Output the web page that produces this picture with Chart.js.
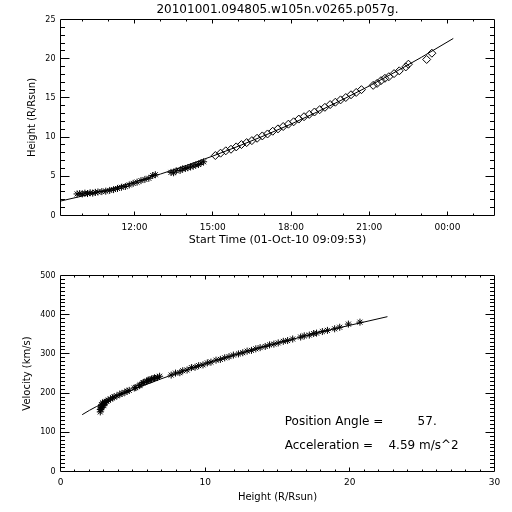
<!DOCTYPE html>
<html><head><meta charset="utf-8">
<script src="https://cdn.jsdelivr.net/npm/chart.js@4"></script>
<style>
html,body{margin:0;padding:0;background:#fff;width:512px;height:512px;overflow:hidden}
canvas{position:absolute;left:0}
#c1{top:0}
#c2{top:250px}
</style></head><body>
<canvas id="c1" width="512" height="250" style="width:512px;height:250px"></canvas>
<canvas id="c2" width="512" height="262" style="width:512px;height:262px"></canvas>
<script>
// ---------- texts ----------
const titleText = '20101001.094805.w105n.v0265.p057g.';
const timeTitle = 'Start Time (01-Oct-10 09:09:53)';
const heightTitle = 'Height (R/Rsun)';
const velocityTitle = 'Velocity (km/s)';
const annotLines = ['Position Angle =         57.', 'Acceleration =    4.59 m/s^2'];

// ---------- top panel: height vs time (hours of day) ----------
const starTimes = [9.80, 9.90, 10.00, 10.10, 10.20, 10.30, 10.40, 10.50, 10.60, 10.75, 10.90, 11.05, 11.20, 11.35, 11.50, 11.65, 11.80, 11.95, 12.10, 12.25, 12.40, 12.55, 12.70, 12.80,
  13.40, 13.50, 13.60, 13.75, 13.85, 13.95, 14.05, 14.15, 14.25, 14.35, 14.45, 14.55, 14.65];
const starHeights = [2.75, 2.80, 2.75, 2.85, 2.80, 2.90, 2.85, 2.95, 3.00, 3.05, 3.10, 3.20, 3.30, 3.45, 3.60, 3.70, 3.90, 4.10, 4.25, 4.45, 4.60, 4.75, 5.10, 5.20,
  5.50, 5.45, 5.70, 5.75, 5.95, 6.00, 6.10, 6.20, 6.30, 6.45, 6.50, 6.70, 6.85];
const diamondTimes = [15.10, 15.30, 15.50, 15.70, 15.90, 16.10, 16.30, 16.50, 16.70, 16.90, 17.10, 17.30, 17.50, 17.70, 17.90, 18.10, 18.30, 18.50, 18.70, 18.90, 19.10, 19.30, 19.50, 19.70, 19.90, 20.10, 20.30, 20.50, 20.70,
  21.15, 21.30, 21.45, 21.60, 21.75, 21.95, 22.15, 22.40, 22.50, 23.20, 23.40];
const diamondHeights = [7.65, 7.95, 8.25, 8.45, 8.75, 9.05, 9.30, 9.55, 9.85, 10.15, 10.40, 10.75, 11.05, 11.35, 11.65, 11.95, 12.30, 12.60, 12.90, 13.20, 13.50, 13.80, 14.15, 14.45, 14.75, 15.05, 15.40, 15.70, 16.05,
  16.60, 16.85, 17.20, 17.50, 17.70, 18.10, 18.45, 18.95, 19.30, 19.90, 20.70];
const fitTimes = [9.165, 10, 11, 12, 13, 14, 15, 16, 17, 18, 19, 20, 21, 22, 23, 24.22];
const fitHeights = [1.84, 2.48, 3.33, 4.27, 5.29, 6.39, 7.58, 8.86, 10.22, 11.66, 13.20, 14.82, 16.52, 18.31, 20.18, 22.58];

const timeTickHours = [12, 15, 18, 21, 24];
const timeTickLabels = ['12:00', '15:00', '18:00', '21:00', '00:00'];
const heightTickValues = [0, 5, 10, 15, 20, 25];
const heightTickLabels = ['0', '5', '10', '15', '20', '25'];

// ---------- bottom panel: velocity vs height ----------
const starVelocities = [158, 165, 152, 170, 160, 175, 163, 172, 168, 176, 177, 179, 182, 185, 188, 190, 193, 197, 199, 202, 205, 207, 213, 214,
  221, 219, 226, 227, 230, 231, 233, 234, 236, 237, 239, 240, 243];
const diamondVelocities = [246, 251, 252, 257, 259, 265, 266, 270, 272, 277, 279, 284, 286, 290, 293, 297, 300, 303, 307, 309, 313, 316, 319, 323, 325, 328, 332, 334, 338,
  343, 346, 348, 352, 353, 357, 360, 364, 368, 376, 381];
const velFitHeights = [1.5, 2, 2.5, 3, 4, 5, 6, 7, 8, 10, 12, 14, 16, 18, 20, 22.6];
const velFitValues = [145, 156, 166, 175, 193, 209, 223, 237, 250, 275, 297, 318, 337, 356, 373, 395];

const hAxisTickValues = [0, 10, 20, 30];
const hAxisTickLabels = ['0', '10', '20', '30'];
const vTickValues = [0, 100, 200, 300, 400, 500];
const vTickLabels = ['0', '100', '200', '300', '400', '500'];

// ---------- helpers ----------
const FONT = "'DejaVu Sans', sans-serif";
Chart.defaults.font.family = FONT;
Chart.defaults.color = '#000';
const pts = (xs, ys) => xs.map((x, i) => ({x, y: ys[i]}));
const range = (a, b, s) => { const r = []; for (let v = a; v <= b + 1e-9; v += s) r.push(Math.round(v * 1000) / 1000); return r; };
const labelFrom = (vals, labs) => v => { const i = vals.indexOf(v); return i >= 0 ? labs[i] : ''; };

const idlFrame = {
  id: 'idlFrame',
  afterDatasetsDraw(chart, args, o) {
    const {ctx, chartArea: a} = chart;
    const xs = chart.scales.x, ys = chart.scales.y;
    const snap = v => Math.round(v - 0.5) + 0.5;
    const L = snap(a.left), R = snap(a.right), T = snap(a.top), B = snap(a.bottom);
    ctx.save();
    ctx.strokeStyle = '#000'; ctx.lineWidth = 1;
    ctx.beginPath();
    ctx.rect(L, T, R - L, B - T);
    xs.ticks.forEach(t => {
      const p = snap(xs.getPixelForValue(t.value));
      if (p <= L + 0.1 || p >= R - 0.1) return;
      const len = o.xMajor.includes(t.value) ? o.xLen[0] : o.xLen[1];
      ctx.moveTo(p, B); ctx.lineTo(p, B - len);
      ctx.moveTo(p, T); ctx.lineTo(p, T + len);
    });
    ys.ticks.forEach(t => {
      const p = snap(ys.getPixelForValue(t.value));
      if (p <= T + 0.1 || p >= B - 0.1) return;
      const len = o.yMajor.includes(t.value) ? o.yLen[0] : o.yLen[1];
      ctx.moveTo(L, p); ctx.lineTo(L + len, p);
      ctx.moveTo(R, p); ctx.lineTo(R - len, p);
    });
    ctx.stroke();
    ctx.restore();
  }
};

const annot = {
  id: 'annot',
  afterDraw(chart, args, o) {
    const {ctx} = chart;
    ctx.save();
    ctx.fillStyle = '#000';
    ctx.font = '12px ' + FONT;
    ctx.textBaseline = 'middle';
    ctx.textAlign = 'left';
    const x = chart.scales.x.getPixelForValue(o.x);
    o.lines.forEach((s, i) => ctx.fillText(s, x, chart.scales.y.getPixelForValue(o.y[i])));
    ctx.restore();
  }
};

const common = {
  responsive: false, animation: false, devicePixelRatio: 1,
  events: []
};

// ---------- top chart ----------
new Chart(document.getElementById('c1'), {
  type: 'scatter',
  data: { datasets: [
    { data: pts(fitTimes, fitHeights), showLine: true, borderColor: '#000', borderWidth: 1, pointRadius: 0, tension: 0 },
    { data: pts(starTimes, starHeights), pointStyle: 'star', pointRadius: 3.5, borderColor: '#000', borderWidth: 1, backgroundColor: 'rgba(0,0,0,0)' },
    { data: pts(diamondTimes, diamondHeights), pointStyle: 'rectRot', pointRadius: 4, borderColor: '#000', borderWidth: 1, backgroundColor: 'rgba(0,0,0,0)' }
  ]},
  options: Object.assign({}, common, {
    layout: { padding: { left: 0, right: 17.5, top: 0, bottom: 0 } },
    plugins: {
      legend: { display: false }, tooltip: { enabled: false },
      title: { display: true, text: titleText, fullSize: false, color: '#000', font: { size: 12, weight: 'normal' }, padding: { top: 3, bottom: 2.1 } },
      idlFrame: { xMajor: timeTickHours, yMajor: heightTickValues, xLen: [4, 2], yLen: [9, 4.5] }
    },
    scales: {
      x: {
        type: 'linear', min: 9.165, max: 25.8,
        afterBuildTicks: s => { s.ticks = range(10, 25, 1).map(v => ({value: v})); },
        afterFit: s => { s.height = 34.5; },
        grid: { display: false, drawTicks: false }, border: { display: false },
        ticks: { autoSkip: false, maxRotation: 0, minRotation: 0, padding: 7, color: '#000', font: { size: 9 }, callback: labelFrom(timeTickHours, timeTickLabels) },
        title: { display: true, text: timeTitle, color: '#000', font: { size: 11 }, padding: 3.4 }
      },
      y: {
        min: 0, max: 25,
        afterBuildTicks: s => { s.ticks = range(0, 25, 1).map(v => ({value: v})); },
        afterFit: s => { s.width = 60.5; },
        grid: { display: false, drawTicks: false }, border: { display: false },
        ticks: { autoSkip: false, padding: 5, color: '#000', font: { size: 8 }, callback: labelFrom(heightTickValues, heightTickLabels) },
        title: { display: true, text: heightTitle, color: '#000', font: { size: 10 }, padding: 26.7 }
      }
    }
  }),
  plugins: [idlFrame]
});

// ---------- bottom chart ----------
new Chart(document.getElementById('c2'), {
  type: 'scatter',
  data: { datasets: [
    { data: pts(velFitHeights, velFitValues), showLine: true, borderColor: '#000', borderWidth: 1, pointRadius: 0, tension: 0 },
    { data: pts(starHeights.concat(diamondHeights), starVelocities.concat(diamondVelocities)), pointStyle: 'star', pointRadius: 3.5, borderColor: '#000', borderWidth: 1, backgroundColor: 'rgba(0,0,0,0)' }
  ]},
  options: Object.assign({}, common, {
    layout: { padding: { left: 0, right: 17.5, top: 25.5, bottom: 0 } },
    plugins: {
      legend: { display: false }, tooltip: { enabled: false },
      idlFrame: { xMajor: hAxisTickValues, yMajor: vTickValues, xLen: [4, 2], yLen: [9, 4.5] },
      annot: { x: 15.5, y: [126, 65], lines: annotLines }
    },
    scales: {
      x: {
        type: 'linear', min: 0, max: 30,
        afterBuildTicks: s => { s.ticks = range(0, 30, 1).map(v => ({value: v})); },
        afterFit: s => { s.height = 40.5; },
        grid: { display: false, drawTicks: false }, border: { display: false },
        ticks: { autoSkip: false, maxRotation: 0, minRotation: 0, padding: 6, color: '#000', font: { size: 9 }, callback: labelFrom(hAxisTickValues, hAxisTickLabels) },
        title: { display: true, text: heightTitle, color: '#000', font: { size: 10 }, padding: 9 }
      },
      y: {
        min: 0, max: 500,
        afterBuildTicks: s => { s.ticks = range(0, 500, 10).map(v => ({value: v})); },
        afterFit: s => { s.width = 60.5; },
        grid: { display: false, drawTicks: false }, border: { display: false },
        ticks: { autoSkip: false, padding: 5, color: '#000', font: { size: 8 }, callback: labelFrom(vTickValues, vTickLabels) },
        title: { display: true, text: velocityTitle, color: '#000', font: { size: 10 }, padding: 21.5 }
      }
    }
  }),
  plugins: [idlFrame, annot]
});
</script>
</body></html>
